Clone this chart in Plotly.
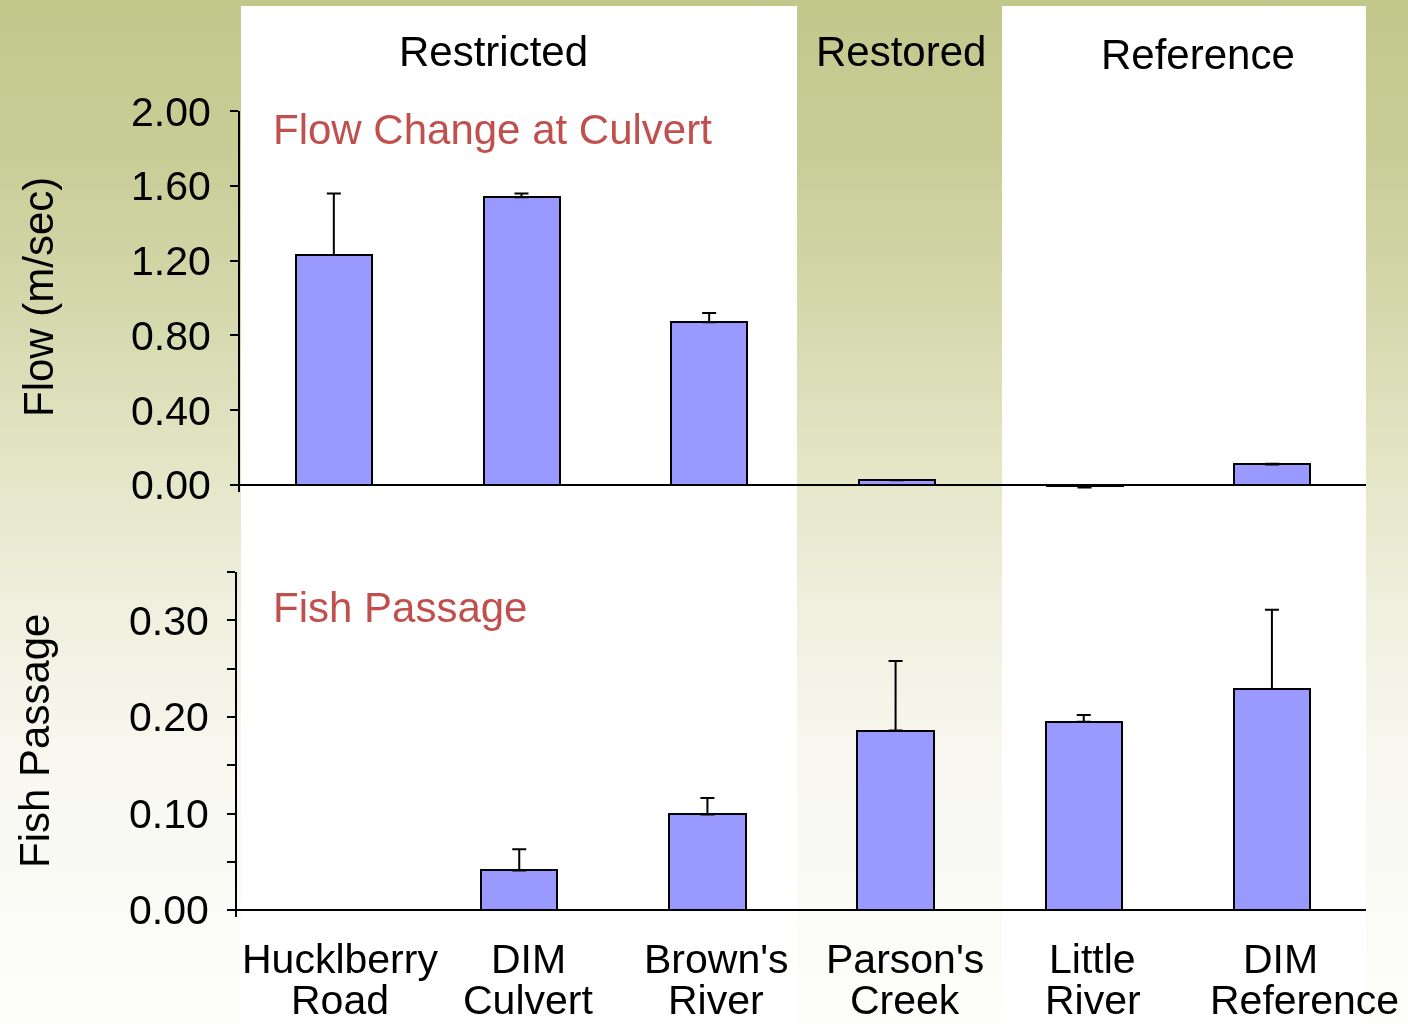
import plotly.graph_objects as go

# ---------------- data ----------------
categories = ["Hucklberry\nRoad", "DIM\nCulvert", "Brown's\nRiver",
              "Parson's\nCreek", "Little\nRiver", "DIM\nReference"]
flow_values = [1.23, 1.54, 0.87, 0.025, -0.003, 0.11]
flow_errors = [0.33, 0.02, 0.05, 0.002, 0.010, 0.004]
fish_values = [0.0, 0.041, 0.099, 0.186, 0.195, 0.229]
fish_errors = [0.0, 0.022, 0.017, 0.072, 0.007, 0.082]
flow_ticks = [0.0, 0.4, 0.8, 1.2, 1.6, 2.0]
fish_ticks = [0.0, 0.1, 0.2, 0.3]
groups = ["Restricted", "Restored", "Reference"]
titles = ["Flow Change at Culvert", "Fish Passage"]
ytitles = ["Flow (m/sec)", "Fish Passage"]

W, H = 1408, 1024
FONT = "Arial, Liberation Sans, sans-serif"
BAR_FILL = "#9999ff"
RED = "#c0504d"
TOP_OFF, SPAN = 22.0, 985.0   # where the figure lands on the captured page


def px(x):
    return x / W


def py(y):
    return 1 - (y - TOP_OFF) / SPAN


x_idx = list(range(len(categories)))


def err_parts(vals, errs):
    plus = [e if v >= 0 else 0 for v, e in zip(vals, errs)]
    minus = [e if v < 0 else 0 for v, e in zip(vals, errs)]
    return plus, minus


fig = go.Figure()

fp, fm = err_parts(flow_values, flow_errors)
fig.add_trace(go.Bar(
    x=x_idx, y=flow_values, xaxis="x", yaxis="y", width=0.405,
    marker=dict(color=BAR_FILL, line=dict(color="black", width=2)),
    error_y=dict(type="data", symmetric=False, array=fp, arrayminus=fm,
                 color="black", thickness=2, width=7),
    showlegend=False, hoverinfo="skip"))

gp, gm = err_parts(fish_values, fish_errors)
fig.add_trace(go.Bar(
    x=x_idx, y=fish_values, xaxis="x2", yaxis="y2", width=0.405,
    marker=dict(color=BAR_FILL, line=dict(color="black", width=2)),
    error_y=dict(type="data", symmetric=False, array=gp, arrayminus=gm,
                 color="black", thickness=2, width=7),
    showlegend=False, hoverinfo="skip"))

tickfont = dict(family=FONT, size=41, color="black")

common_x = dict(range=[-0.5, 5.5], showline=False, showgrid=False, zeroline=False,
                tickmode="array", tickvals=[-0.5, 5.5], ticktext=["", ""],
                ticks="inside", ticklen=7, tickwidth=2, tickcolor="black",
                showticklabels=False, fixedrange=True)

fig.update_layout(
    width=W, height=H, autosize=False,
    margin=dict(l=0, r=0, t=0, b=0),
    paper_bgcolor="rgba(0,0,0,0)",
    plot_bgcolor="rgba(0,0,0,0)",
    bargap=0,
    xaxis=dict(domain=[px(240), px(1366)], anchor="y", **common_x),
    yaxis=dict(domain=[py(491.5), py(111)], anchor="x",
               range=[-0.035, 2.001], tickmode="array", tickvals=flow_ticks,
               tickformat=".2f", ticks="outside", ticklen=8, tickwidth=2,
               tickcolor="black", showline=True, linewidth=2, linecolor="black",
               showgrid=False, zeroline=True, zerolinecolor="black", zerolinewidth=2,
               tickfont=tickfont, ticklabelstandoff=11),
    xaxis2=dict(domain=[px(237), px(1366)], anchor="y2", **common_x),
    yaxis2=dict(domain=[py(917), py(572)], anchor="x2",
                range=[-0.0072, 0.3502], tickmode="array", tickvals=fish_ticks,
                tickformat=".2f", ticks="outside", ticklen=8, tickwidth=2,
                tickcolor="black", showline=True, linewidth=2, linecolor="black",
                showgrid=False, zeroline=True, zerolinecolor="black", zerolinewidth=2,
                minor=dict(tickmode="linear", tick0=0, dtick=0.05, ticks="outside",
                           ticklen=8, tickwidth=2, tickcolor="black", showgrid=False),
                tickfont=tickfont, ticklabelstandoff=10),
)

# white panels (inside the figure), starting just below the top edge
for x0, x1 in [(241, 797), (1002, 1366)]:
    fig.add_shape(type="rect", xref="paper", yref="paper",
                  x0=px(x0), x1=px(x1), y0=py(1040), y1=py(6),
                  fillcolor="white", line=dict(width=0), layer="below")

ann = []
for g, (xc, yc) in zip(groups, [(493, 52), (901, 52), (1198, 55)]):
    ann.append(dict(text=g, x=px(xc), y=py(yc), xref="paper", yref="paper",
                    xanchor="center", yanchor="middle", showarrow=False,
                    font=dict(family=FONT, size=42, color="black")))
for t, yc in zip(titles, [130, 607]):
    ann.append(dict(text=t, x=px(271), y=py(yc), xref="paper", yref="paper",
                    xanchor="left", yanchor="middle", showarrow=False,
                    font=dict(family=FONT, size=42, color=RED)))
for t, (xc, yc) in zip(ytitles, [(38, 297), (34, 741)]):
    ann.append(dict(text=t, x=px(xc), y=py(yc), xref="paper", yref="paper",
                    xanchor="center", yanchor="middle", showarrow=False,
                    textangle=-90,
                    font=dict(family=FONT, size=42, color="black")))
for i, cat in enumerate(categories):
    lines = cat.split("\n")
    for j, line in enumerate(lines):
        shift = 9
        if i == len(categories) - 1 and j == 1:
            shift = 33
        ann.append(dict(text=line, x=i, y=py(959 + 41 * j), xref="x2", yref="paper",
                        xanchor="center", yanchor="middle", showarrow=False,
                        xshift=shift,
                        font=dict(family=FONT, size=41, color="black")))
fig.update_layout(annotations=ann)

# page background: olive gradient fading to white, with white panels
stops = [(0, "#c2c88c"), (0.15, "#c8cd96"), (0.3, "#d4d8ac"), (0.45, "#e3e5c5"),
         (0.6, "#eff0df"), (0.75, "#f8f8f1"), (1, "#fdfdfb")]
css_grad = "linear-gradient(to bottom," + ",".join(f"{c} {o*100:.0f}%" for o, c in stops) + ")"
css_bg = ("linear-gradient(#fff,#fff) 241px 6px / 556px 1100px no-repeat,"
          "linear-gradient(#fff,#fff) 1002px 6px / 364px 1100px no-repeat,"
          + css_grad + " 0 0 / 100% 100% no-repeat")
post = ("var d=document.getElementById('{plot_id}');"
        "d.style.position='fixed';d.style.left='0px';d.style.top='0px';"
        "d.style.margin='0';"
        "var h=document.documentElement;h.style.margin='0';h.style.padding='0';"
        "h.style.overflow='hidden';h.style.background='#c2c88c';h.style.height='100%';"
        "document.body.style.margin='0';document.body.style.padding='0';"
        "document.body.style.overflow='hidden';document.body.style.height='100%';"
        f"document.body.style.background='{css_bg}';")

fig.write_html("out.html", post_script=post,
               config={"displayModeBar": False, "responsive": False})
